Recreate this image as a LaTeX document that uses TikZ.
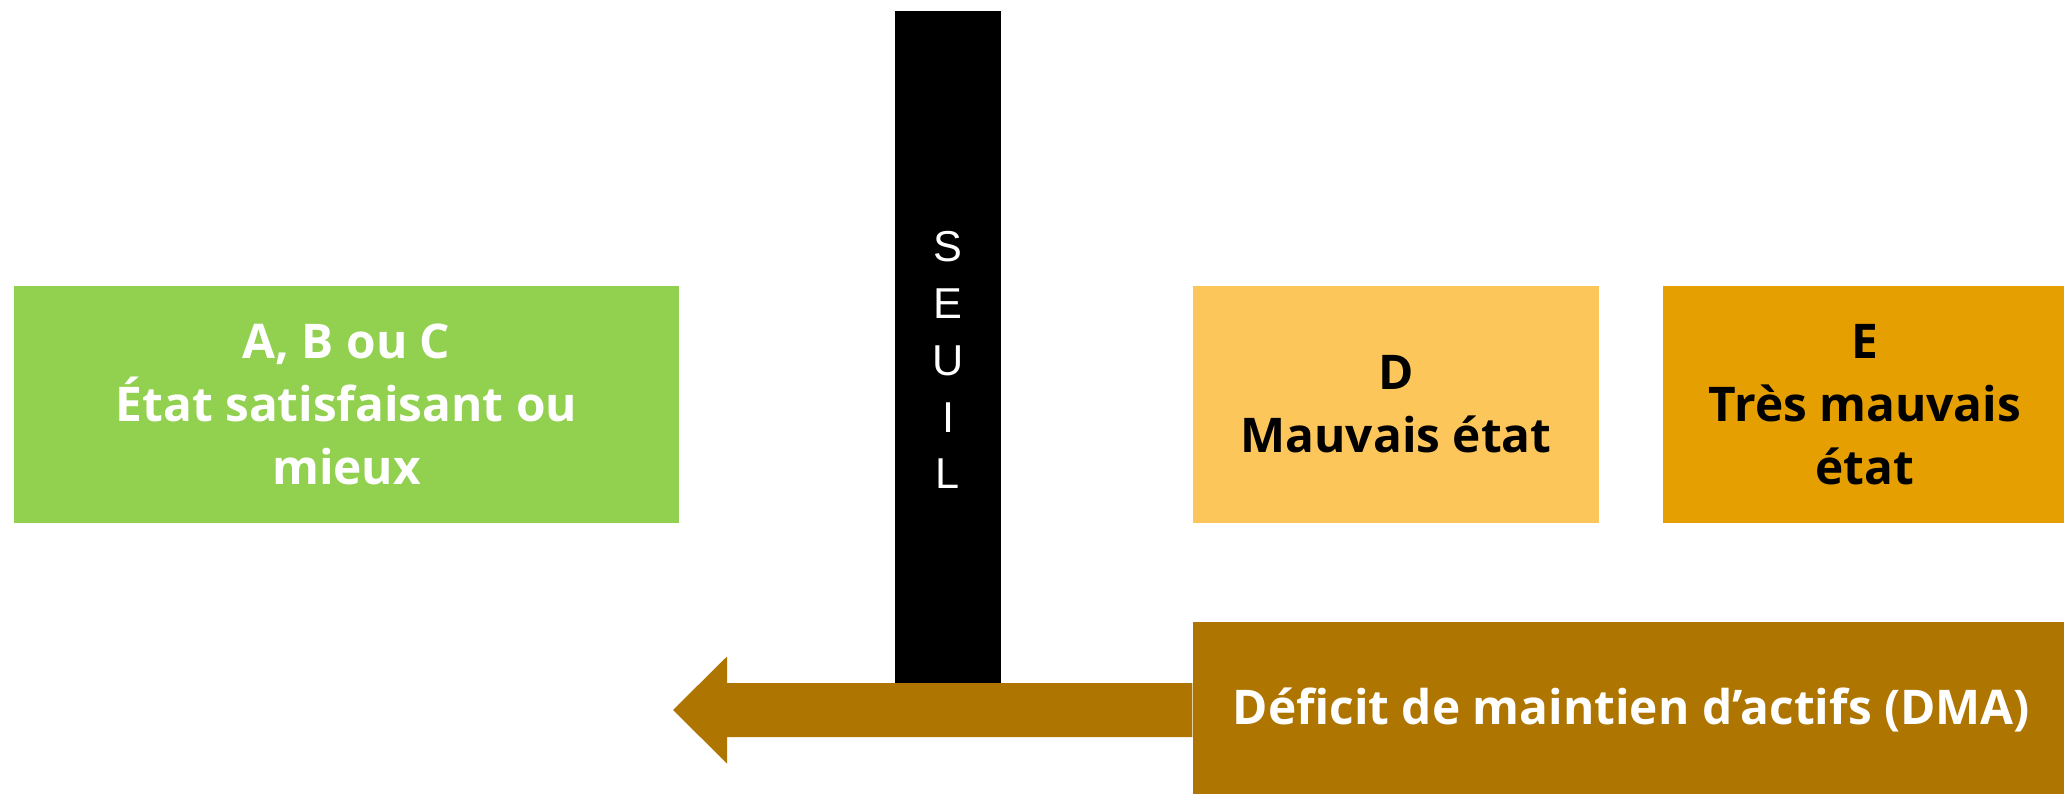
\documentclass[tikz,border=0pt]{standalone}
\usepackage{fontspec}
\setmainfont{Open Sans}
\newfontfamily\seuilfont{Liberation Sans}
\usepackage{xcolor}
\usepackage{tikz}
\definecolor{vertetat}{HTML}{92D050}
\definecolor{jauneetat}{HTML}{FCC65A}
\definecolor{orangeetat}{HTML}{E69F00}
\definecolor{brundma}{HTML}{AE7600}

\begin{document}
\begin{tikzpicture}[
	etat/.style={inner sep=0pt,align=center,minimum height=2.37cm,
		font=\bfseries\fontsize{13.6}{18}\selectfont},
	barre/.style={fill=black,inner sep=0pt,minimum width=1.06cm,minimum height=6.72cm}]
	\useasboundingbox (0,0) rectangle (20.64,7.93);
	% classes d'etat
	\node[etat,fill=vertetat,text=white,minimum width=6.65cm] (abc) at (3.465,3.885) {A, B ou C\\État satisfaisant ou\\mieux};
	\node[etat,fill=jauneetat,text=black,minimum width=4.06cm] (d) at (13.96,3.885) {D\\Mauvais état};
	\node[etat,fill=orangeetat,text=black,minimum width=4.04cm] (e) at (18.65,3.885) {E\\Très mauvais\\état};
	% seuil
	\node[barre] (seuil) at (9.48,4.46) {};
	\node[text=white,inner sep=0pt,align=center,font=\seuilfont\fontsize{12.3}{16.2}\selectfont] (seuiltxt) at ([yshift=-0.13cm]seuil.center) {S\\E\\U\\I\\L};
	% DMA et fleche
	\node[etat,fill=brundma,text=white,minimum width=8.77cm,minimum height=1.76cm] (dma) at (16.315,0.83) {Déficit de maintien d’actifs (DMA)};
	\coordinate (pointe) at (6.73,0.83);
	\fill[brundma] ([yshift=0.27cm]dma.west) -- ([shift={(0.54,0.27)}]pointe) -- ([shift={(0.54,0.535)}]pointe)
		-- (pointe) -- ([shift={(0.54,-0.535)}]pointe) -- ([shift={(0.54,-0.27)}]pointe) -- ([yshift=-0.27cm]dma.west) -- cycle;
\end{tikzpicture}
\end{document}
